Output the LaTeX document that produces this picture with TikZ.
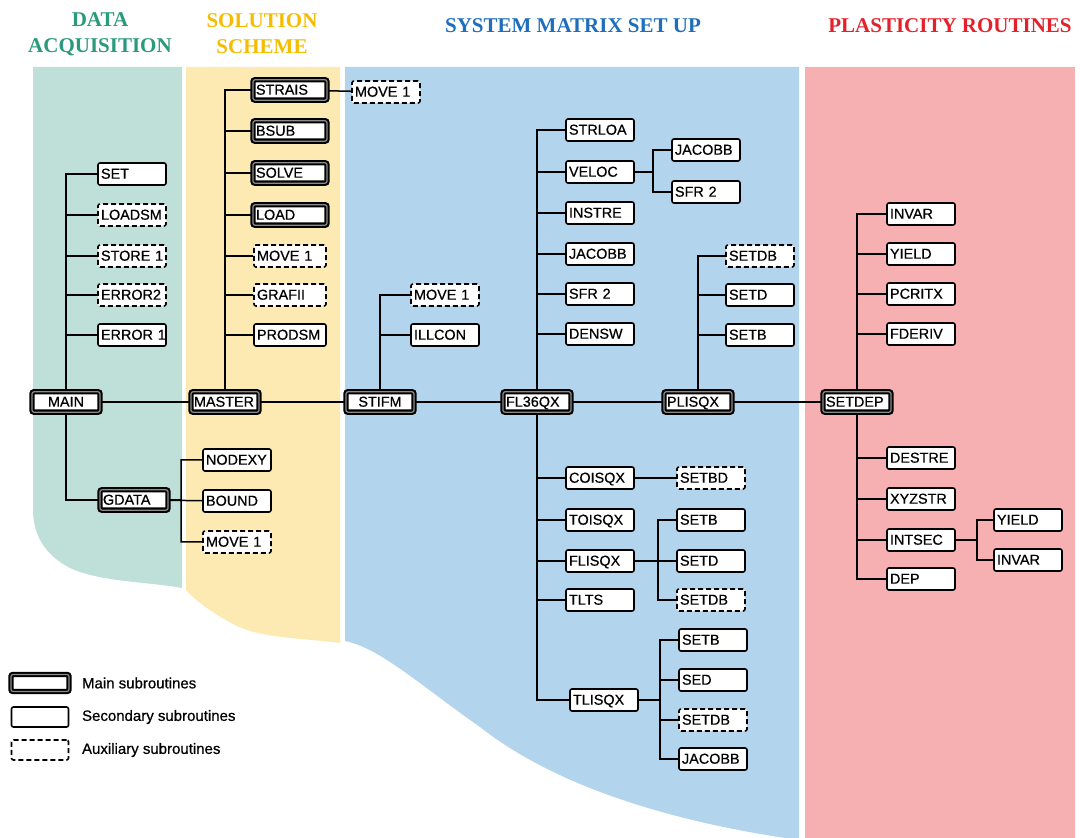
\documentclass[tikz,border=0pt]{standalone}
\usepackage{fontspec}
\setmainfont{Liberation Serif}
\newfontfamily\boxfont[FakeBold=0.6]{Liberation Sans}
\definecolor{acqback}{HTML}{BEE0D8}
\definecolor{solback}{HTML}{FDEAB2}
\definecolor{sysback}{HTML}{B2D4EC}
\definecolor{plaback}{HTML}{F7B0B2}
\definecolor{acqtext}{HTML}{2A9A7C}
\definecolor{soltext}{HTML}{F5BC00}
\definecolor{systext}{HTML}{1F6EBE}
\definecolor{platext}{HTML}{E6202A}
\tikzset{
  sub/.style={draw, line width=0.8pt, rounded corners=1pt, fill=white,
    font=\boxfont\fontsize{7.2}{8}\selectfont, text width=31pt, align=left,
    inner xsep=1.5pt, inner ysep=0pt, minimum height=11pt, text height=5.3pt, text depth=0.6pt},
  mainsub/.style={sub, line width=1.05pt, double=black!45, double distance=0.6pt, minimum height=10.2pt},
  auxsub/.style={sub, dash pattern=on 2.5pt off 1.5pt},
  wide/.style={text width=34pt},
  link/.style={line width=0.75pt},
  head/.style={font=\bfseries\fontsize{10.5}{13}\selectfont, align=center},
  legtext/.style={font=\boxfont\fontsize{7.5}{9}\selectfont, anchor=west},
}
\begin{document}
\begin{tikzpicture}[x=0.5pt,y=-0.5pt]
  \useasboundingbox (0,0) rectangle (1080,838);
  % coloured columns
  \fill[acqback] (33,67) -- (182,67) -- (182,588) .. controls (150,582) and (100,582) .. (70,568)
    .. controls (45,555) and (33,535) .. (33,510) -- cycle;
  \fill[solback] (186,67) -- (340,67) -- (340,643) .. controls (300,638) and (260,638) .. (235,625)
    .. controls (210,612) and (195,600) .. (186,590) -- cycle;
  \fill[sysback] (345,67) -- (799,67) -- (799,838) -- (785,838) .. controls (680,822) and (560,790) .. (480,727)
    .. controls (420,685) and (380,648) .. (345,641) -- cycle;
  \fill[plaback] (805,67) rectangle (1075,838);
  \node[head, text=acqtext] (acqhead) at (100,34) {DATA\\ACQUISITION};
  \node[head, text=soltext] (solhead) at (262,34) {SOLUTION\\SCHEME};
  \node[head, text=systext] (syshead) at (573,26) {SYSTEM MATRIX SET UP};
  \node[head, text=platext] (plahead) at (950,26) {PLASTICITY ROUTINES};

  % data acquisition
  \node[mainsub, align=center] (main) at (66,402) {MAIN};
  \node[sub] (set) at (132,174) {SET};
  \node[auxsub] (loadsm) at (132,215) {LOADSM};
  \node[auxsub] (store) at (132,256) {STORE~1};
  \node[auxsub] (errtwo) at (132,295) {ERROR2};
  \node[sub] (errone) at (132,335) {ERROR~1};
  \node[mainsub] (gdata) at (134,500) {GDATA};
  \node[sub] (nodexy) at (237,460) {NODEXY};
  \node[sub] (bound) at (237,501) {BOUND};
  \node[auxsub] (moveg) at (237,542) {MOVE~1};

  % solution scheme
  \node[mainsub] (master) at (225,402) {MASTER};
  \node[mainsub, wide] (strais) at (290,90) {STRAIS};
  \node[mainsub, wide] (bsub) at (290,131) {BSUB};
  \node[mainsub, wide] (solve) at (290,173) {SOLVE};
  \node[mainsub, wide] (load) at (290,215) {LOAD};
  \node[auxsub, text width=33pt] (moves) at (290,256) {MOVE~1};
  \node[auxsub, text width=33pt] (grafii) at (290,295) {GRAFII};
  \node[sub, text width=33pt] (prodsm) at (290,335) {PRODSM};
  \node[auxsub] (movet) at (386,92) {MOVE~1};

  % system matrix set up
  \node[mainsub, align=center] (stifm) at (380,402) {STIFM};
  \node[auxsub] (movei) at (445,295) {MOVE~1};
  \node[sub] (illcon) at (445,335) {ILLCON};
  \node[mainsub] (flqx) at (537,402) {FL36QX};
  \node[sub] (strloa) at (600,130) {STRLOA};
  \node[sub] (veloc) at (600,172) {VELOC};
  \node[sub] (instre) at (600,213) {INSTRE};
  \node[sub] (jacobba) at (600,254) {JACOBB};
  \node[sub] (sfra) at (600,294) {SFR~2};
  \node[sub] (densw) at (600,334) {DENSW};
  \node[sub] (jacobbb) at (706,150) {JACOBB};
  \node[sub] (sfrb) at (706,192) {SFR~2};
  \node[sub] (coisqx) at (600,478) {COISQX};
  \node[auxsub] (setbd) at (711,478) {SETBD};
  \node[sub] (toisqx) at (600,520) {TOISQX};
  \node[sub] (flisqx) at (600,561) {FLISQX};
  \node[sub] (tlts) at (600,600) {TLTS};
  \node[sub] (setba) at (711,520) {SETB};
  \node[sub] (setda) at (711,561) {SETD};
  \node[auxsub] (setdba) at (711,600) {SETDB};
  \node[sub] (tlisqx) at (604,700) {TLISQX};
  \node[sub] (setbb) at (713,640) {SETB};
  \node[sub] (sed) at (713,680) {SED};
  \node[auxsub] (setdbb) at (713,720) {SETDB};
  \node[sub] (jacobbc) at (713,759) {JACOBB};
  \node[mainsub] (plisqx) at (698,402) {PLISQX};
  \node[auxsub] (setdbc) at (760,256) {SETDB};
  \node[sub] (setdc) at (760,295) {SETD};
  \node[sub] (setbc) at (760,335) {SETB};

  % plasticity routines
  \node[mainsub] (setdep) at (857,402) {SETDEP};
  \node[sub] (invara) at (921,214) {INVAR};
  \node[sub] (yielda) at (921,254) {YIELD};
  \node[sub] (pcritx) at (921,294) {PCRITX};
  \node[sub] (fderiv) at (921,334) {FDERIV};
  \node[sub] (destre) at (921,458) {DESTRE};
  \node[sub] (xyzstr) at (921,499) {XYZSTR};
  \node[sub] (intsec) at (921,540) {INTSEC};
  \node[sub] (dep) at (921,579) {DEP};
  \node[sub] (yieldb) at (1028,520) {YIELD};
  \node[sub] (invarb) at (1028,560) {INVAR};

  % calling lines
  \draw[link] (main) -- (master) -- (stifm) -- (flqx) -- (plisqx) -- (setdep);
  \draw[link] (main.north) |- (set.west) (main.north) |- (loadsm.west) (main.north) |- (store.west)
    (main.north) |- (errtwo.west) (main.north) |- (errone.west) (main.south) |- (gdata.west);
  \draw[link] (gdata.east) -- ++(12,0) |- (nodexy.west) (gdata.east) -- ++(12,0) |- (moveg.west)
    (gdata) -- (bound);
  \draw[link] (master.north) |- (strais.west) (master.north) |- (bsub.west) (master.north) |- (solve.west)
    (master.north) |- (load.west) (master.north) |- (moves.west) (master.north) |- (grafii.west)
    (master.north) |- (prodsm.west);
  \draw[link] (strais) -- (movet);
  \draw[link] (stifm.north) |- (movei.west) (stifm.north) |- (illcon.west);
  \draw[link] (flqx.north) |- (strloa.west) (flqx.north) |- (veloc.west) (flqx.north) |- (instre.west)
    (flqx.north) |- (jacobba.west) (flqx.north) |- (sfra.west) (flqx.north) |- (densw.west);
  \draw[link] (veloc.east) -- ++(18,0) |- (jacobbb.west) (veloc.east) -- ++(18,0) |- (sfrb.west);
  \draw[link] (flqx.south) |- (coisqx.west) (flqx.south) |- (toisqx.west) (flqx.south) |- (flisqx.west)
    (flqx.south) |- (tlts.west) (flqx.south) |- (tlisqx.west);
  \draw[link] (coisqx) -- (setbd);
  \draw[link] (flisqx.east) -- ++(23,0) |- (setba.west) (flisqx.east) -- ++(23,0) |- (setdba.west)
    (flisqx) -- (setda);
  \draw[link] (tlisqx.east) -- ++(21,0) |- (setbb.west) (tlisqx.east) -- ++(21,0) |- (sed.west)
    (tlisqx.east) -- ++(21,0) |- (setdbb.west) (tlisqx.east) -- ++(21,0) |- (jacobbc.west);
  \draw[link] (plisqx.north) |- (setdbc.west) (plisqx.north) |- (setdc.west) (plisqx.north) |- (setbc.west);
  \draw[link] (setdep.north) |- (invara.west) (setdep.north) |- (yielda.west) (setdep.north) |- (pcritx.west)
    (setdep.north) |- (fderiv.west);
  \draw[link] (setdep.south) |- (destre.west) (setdep.south) |- (xyzstr.west) (setdep.south) |- (intsec.west)
    (setdep.south) |- (dep.west);
  \draw[link] (intsec.east) -- ++(21,0) |- (yieldb.west) (intsec.east) -- ++(21,0) |- (invarb.west);

  % legend
  \node[mainsub, text width=26pt, minimum height=8.5pt] (legmain) at (40,683) {};
  \node[sub, text width=25.5pt, minimum height=10pt] (legsec) at (40,717) {};
  \node[auxsub, text width=25.5pt, minimum height=10pt] (legaux) at (40,750) {};
  \node[legtext] (legmaintext) at (75,683) {Main subroutines};
  \node[legtext] (legsectext) at (75,717) {Secondary subroutines};
  \node[legtext] (legauxtext) at (75,750) {Auxiliary subroutines};
\end{tikzpicture}
\end{document}
